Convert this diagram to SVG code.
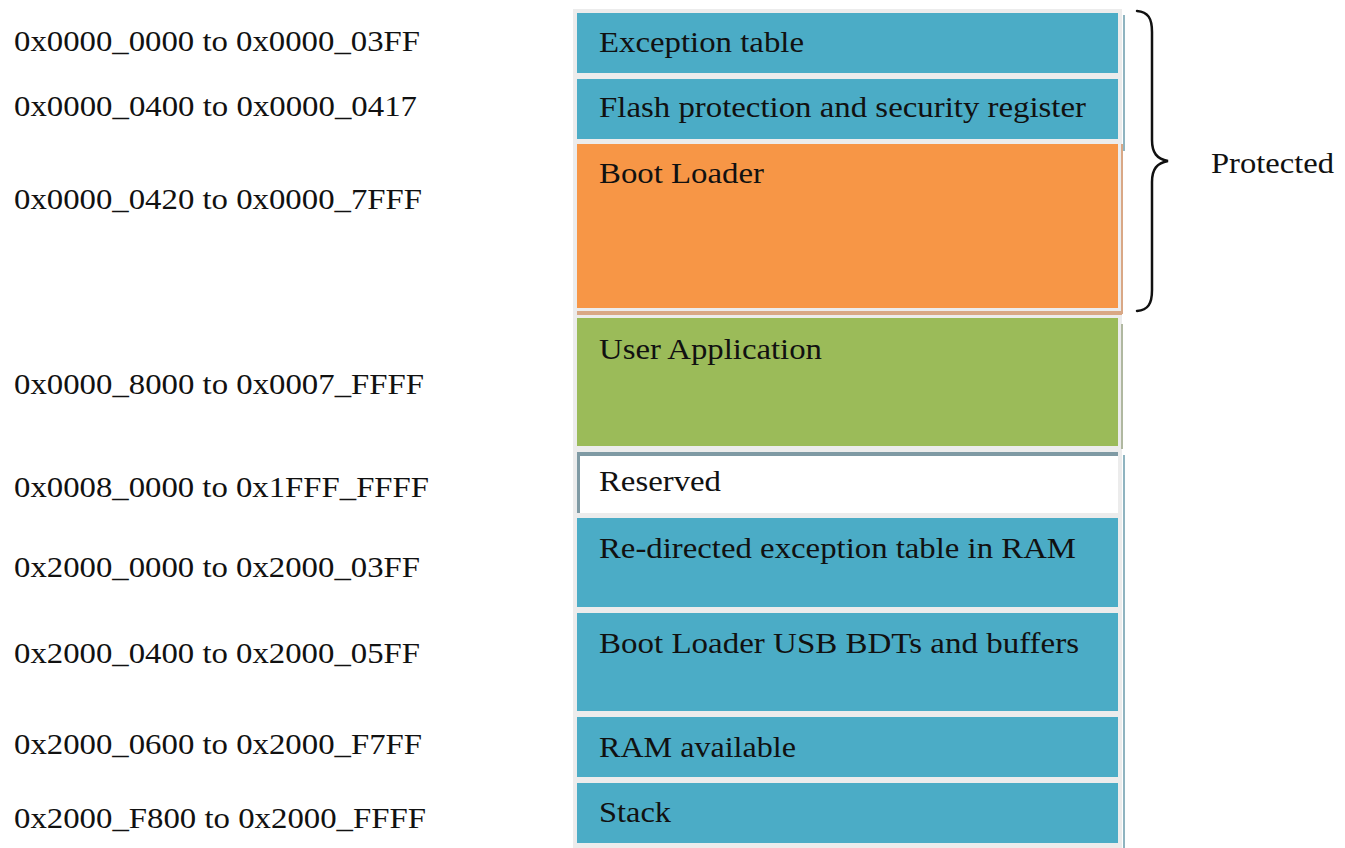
<svg xmlns="http://www.w3.org/2000/svg" width="1345" height="848" viewBox="0 0 1345 848">
  <style>
    text { font-family: "Liberation Serif", "Times New Roman", serif; font-size: 30px; fill: #111; }
    .blue { fill: #4bacc6; }
    .orange { fill: #f79646; }
    .green { fill: #9bbb59; }
    .white { fill: #ffffff; }
    .brace { fill: none; stroke: #111; stroke-width: 2.5; stroke-linecap: round; }
  </style>

  <rect x="0" y="0" width="1345" height="848" fill="#ffffff"/>

  <!-- memory map column background -->
  <g id="column">
    <rect x="573" y="9" width="549" height="839" fill="#ececec"/>
    <!-- right edge shadow lines per section -->
    <rect x="1123" y="15" width="2" height="136" fill="#8fb4c0"/>
    <rect x="1121" y="144" width="2" height="170" fill="#d9a886"/>
    <rect x="577" y="311" width="545" height="4" fill="#d9a886"/>
    <rect x="1121" y="324" width="2" height="125" fill="#b0b8a0"/>
    <rect x="577" y="452" width="541" height="4" fill="#7f9aa4"/>
    <rect x="1123" y="455" width="2" height="393" fill="#8fb4c0"/>
  </g>

  <!-- address labels -->
  <g id="addresses">
    <text x="14" y="51" textLength="406" lengthAdjust="spacingAndGlyphs">0x0000_0000 to 0x0000_03FF</text>
    <text x="14" y="116" textLength="403" lengthAdjust="spacingAndGlyphs">0x0000_0400 to 0x0000_0417</text>
    <text x="14" y="209" textLength="408" lengthAdjust="spacingAndGlyphs">0x0000_0420 to 0x0000_7FFF</text>
    <text x="14" y="394" textLength="410" lengthAdjust="spacingAndGlyphs">0x0000_8000 to 0x0007_FFFF</text>
    <text x="14" y="497" textLength="415" lengthAdjust="spacingAndGlyphs">0x0008_0000 to 0x1FFF_FFFF</text>
    <text x="14" y="577" textLength="406" lengthAdjust="spacingAndGlyphs">0x2000_0000 to 0x2000_03FF</text>
    <text x="14" y="663" textLength="406" lengthAdjust="spacingAndGlyphs">0x2000_0400 to 0x2000_05FF</text>
    <text x="14" y="754" textLength="408" lengthAdjust="spacingAndGlyphs">0x2000_0600 to 0x2000_F7FF</text>
    <text x="14" y="828" textLength="412" lengthAdjust="spacingAndGlyphs">0x2000_F800 to 0x2000_FFFF</text>
  </g>

  <!-- memory regions -->
  <g id="exception-table">
    <rect class="blue" x="577" y="13" width="541" height="60"/>
    <text x="599" y="52" textLength="205" lengthAdjust="spacingAndGlyphs">Exception table</text>
  </g>
  <g id="flash-protection">
    <rect class="blue" x="577" y="79" width="541" height="60"/>
    <text x="599" y="117" textLength="487" lengthAdjust="spacingAndGlyphs">Flash protection and security register</text>
  </g>
  <g id="boot-loader">
    <rect class="orange" x="577" y="144" width="541" height="164"/>
    <text x="599" y="183" textLength="165" lengthAdjust="spacingAndGlyphs">Boot Loader</text>
  </g>
  <g id="user-application">
    <rect class="green" x="577" y="318" width="541" height="128"/>
    <text x="599" y="359" textLength="223" lengthAdjust="spacingAndGlyphs">User Application</text>
  </g>
  <g id="reserved">
    <rect x="577" y="455" width="3" height="58" fill="#7f9aa4"/>
    <rect class="white" x="580" y="456" width="538" height="57"/>
    <text x="599" y="491" textLength="122" lengthAdjust="spacingAndGlyphs">Reserved</text>
  </g>
  <g id="redirected-exception-table">
    <rect class="blue" x="577" y="518" width="541" height="89"/>
    <text x="599" y="558" textLength="477" lengthAdjust="spacingAndGlyphs">Re-directed exception table in RAM</text>
  </g>
  <g id="usb-bdts">
    <rect class="blue" x="577" y="613" width="541" height="98"/>
    <text x="599" y="653" textLength="480" lengthAdjust="spacingAndGlyphs">Boot Loader USB BDTs and buffers</text>
  </g>
  <g id="ram-available">
    <rect class="blue" x="577" y="717" width="541" height="60"/>
    <text x="599" y="757" textLength="197" lengthAdjust="spacingAndGlyphs">RAM available</text>
  </g>
  <g id="stack">
    <rect class="blue" x="577" y="783" width="541" height="60"/>
    <text x="599" y="822" textLength="72" lengthAdjust="spacingAndGlyphs">Stack</text>
  </g>

  <!-- brace marking the protected range -->
  <g id="connectors">
    <path class="brace" d="M1137,11 C1148,12 1152,18 1152,32 L1152,140 C1152,153 1157,159 1168,161 C1157,163 1152,169 1152,182 L1152,290 C1152,304 1148,310 1137,311"/>
  </g>
  <g id="protected-label">
    <text x="1211" y="173" textLength="123" lengthAdjust="spacingAndGlyphs">Protected</text>
  </g>
</svg>
